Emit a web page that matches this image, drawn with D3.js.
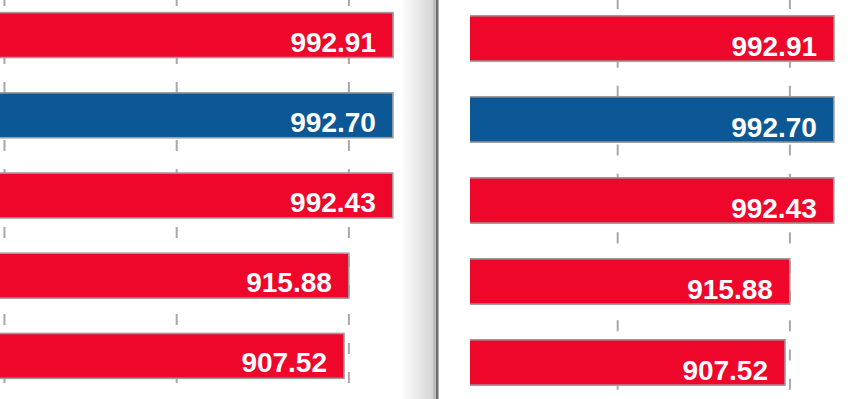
<!DOCTYPE html>
<html>
<head>
<meta charset="utf-8">
<script src="https://cdn.jsdelivr.net/npm/d3@7"></script>
<style>
  html, body { margin: 0; padding: 0; background: #fff; }
  #chart { width: 860px; height: 399px; overflow: hidden; }
</style>
</head>
<body>
<div id="chart"></div>
<script>
// Data (same ranking shown twice, side by side)
let labels = ['a', 'b', 'c', 'd', 'e'];
let values = [992.91, 992.70, 992.43, 915.88, 907.52];
let highlight = [false, true, false, false, false];
let gridValues = [316, 616, 916];

let width = 860;
let height = 399;
let red = '#ee062b';
let blue = '#0c5796';

let svg = d3.select('#chart').append('svg')
  .attr('width', width)
  .attr('height', height);

let defs = svg.append('defs');

// Shared scales
let x = d3.scaleLinear()
  .domain([0, 1000])
  .range([-176.9, 397.1]);

let y = d3.scaleBand()
  .domain(labels)
  .range([-5, 396])
  .paddingInner(0.44)
  .paddingOuter(0.22);

// Draw one copy of the chart, clipped to a window
const drawPanel = (id, clipX, clipW, dx, dy, sy, textDy) => {
  defs.append('clipPath').attr('id', id)
    .append('rect')
    .attr('x', clipX).attr('y', 0)
    .attr('width', clipW).attr('height', height);

  let g = svg.append('g').attr('clip-path', `url(#${id})`)
    .append('g').attr('transform', `translate(${dx},${dy}) scale(1,${sy})`);

  // dashed grid, behind the bars
  g.selectAll('line.grid')
    .data(gridValues)
    .enter()
      .append('line')
      .classed('grid', true)
      .attr('x1', d => x(d)).attr('x2', d => x(d))
      .attr('y1', -5).attr('y2', height + 10)
      .attr('stroke', '#a8a8a8')
      .attr('stroke-width', 2)
      .attr('stroke-dasharray', '11,18');

  let rows = g.selectAll('g.row')
    .data(values)
    .enter()
      .append('g')
      .classed('row', true)
      .attr('transform', (d, i) => `translate(0,${y(labels[i])})`);

  rows.append('rect')
    .attr('x', x(0))
    .attr('y', 0)
    .attr('width', d => x(d) - x(0))
    .attr('height', y.bandwidth())
    .attr('fill', (d, i) => highlight[i] ? blue : red)
    .attr('stroke', '#9c9c9c')
    .attr('stroke-width', 1.6);

  rows.append('text')
    .attr('x', d => x(d) - 17)
    .attr('y', y.bandwidth() / 2 + textDy)
    .attr('text-anchor', 'end')
    .attr('fill', '#fff')
    .style('font-family', '"Liberation Sans", Arial, sans-serif')
    .style('font-weight', 'bold')
    .style('font-size', '28px')
    .text(d => d3.format('.2f')(d));
};

drawPanel('clipLeft', 0, 403, 0, 0, 1, 16.5);
drawPanel('clipRight', 470, 390, 441, 3, 1.01, 17.5);

// page edge / fold between the two copies
let grad = defs.append('linearGradient').attr('id', 'fold')
  .attr('x1', 0).attr('x2', 1).attr('y1', 0).attr('y2', 0);
grad.append('stop').attr('offset', 0).attr('stop-color', '#ffffff');
grad.append('stop').attr('offset', 0.35).attr('stop-color', '#f1f1f1');
grad.append('stop').attr('offset', 1).attr('stop-color', '#d4d4d4');

svg.append('rect')
  .attr('x', 400).attr('y', 0)
  .attr('width', 33).attr('height', height)
  .attr('fill', 'url(#fold)');
svg.append('rect')
  .attr('x', 433).attr('y', 0)
  .attr('width', 3).attr('height', height)
  .attr('fill', '#bdbdbd');
svg.append('rect')
  .attr('x', 436).attr('y', 0)
  .attr('width', 2.5).attr('height', height)
  .attr('fill', '#6c6c6c');
</script>
</body>
</html>
